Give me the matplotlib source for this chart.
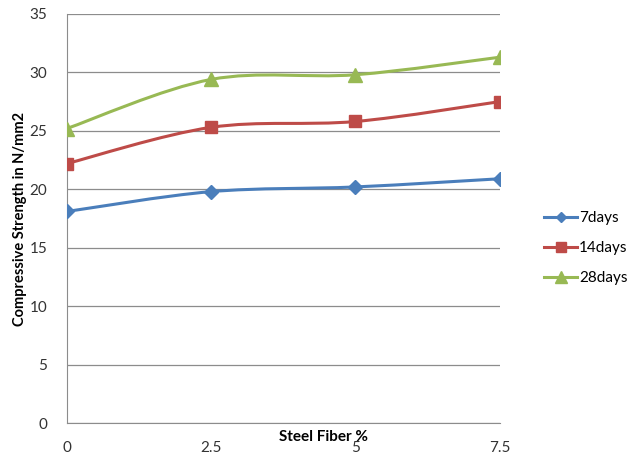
import numpy as np
import matplotlib.pyplot as plt
from matplotlib.path import Path
from matplotlib.patches import PathPatch

# Données
fiber = [0, 2.5, 5, 7.5]
fiber_labels = ["0", "2.5", "5", "7.5"]
days7 = [18.1, 19.8, 20.2, 20.9]
days14 = [22.2, 25.3, 25.8, 27.5]
days28 = [25.2, 29.4, 29.8, 31.3]

plt.rcParams['font.family'] = ['Lato', 'DejaVu Sans']

fig = plt.figure(figsize=(6.31, 4.55), dpi=100)
ax = fig.add_axes([0.106, 0.0703, 0.686, 0.899])


def smooth_path(x, y, t=1/6):
    # courbe lissée type Excel (Bézier Catmull-Rom)
    x = np.asarray(x, float)
    y = np.asarray(y, float)
    n = len(x)
    verts = [(x[0], y[0])]
    codes = [Path.MOVETO]
    for i in range(n - 1):
        i0 = max(i - 1, 0)
        i3 = min(i + 2, n - 1)
        c1 = (x[i] + (x[i + 1] - x[i0]) * t, y[i] + (y[i + 1] - y[i0]) * t)
        c2 = (x[i + 1] - (x[i3] - x[i]) * t, y[i + 1] - (y[i3] - y[i]) * t)
        verts += [c1, c2, (x[i + 1], y[i + 1])]
        codes += [Path.CURVE4] * 3
    return Path(verts, codes)


series = [
    (days7, "7days", "#4A7EBB", "D", 7),
    (days14, "14days", "#BE4B48", "s", 9),
    (days28, "28days", "#98B954", "^", 10),
]

for vals, name, col, mk, ms in series:
    ax.add_patch(PathPatch(smooth_path(fiber, vals), fill=False, edgecolor=col,
                           lw=2.2, zorder=3, capstyle='round'))
    ax.plot(fiber, vals, ls='none', marker=mk, ms=ms, color=col, zorder=4)
    ax.plot([], [], color=col, lw=2.2, marker=mk, ms=ms * 0.8, label=name)

ax.set_xlim(0, 7.5)
ax.set_ylim(0, 35)
ax.set_yticks(np.arange(0, 36, 5))
ax.set_xticks(fiber)
ax.set_xticklabels(fiber_labels)
ax.grid(axis='y', color='#8c8c8c', lw=0.9)
ax.set_axisbelow(True)
for s in ['top', 'right']:
    ax.spines[s].set_visible(False)
for s in ['left', 'bottom']:
    ax.spines[s].set_color('#8c8c8c')
ax.tick_params(axis='both', length=0, labelsize=11, labelcolor='#333333')
ax.tick_params(axis='y', pad=14)
ax.tick_params(axis='x', pad=13)

fig.text(324 / 631, 1 - 437 / 455, "Steel Fiber %", fontsize=11, fontweight='bold',
         ha='center', va='center')
fig.text(20 / 631, 1 - 219 / 455, "Compressive Strength in N/mm2", fontsize=10.5,
         fontweight='bold', rotation=90, ha='center', va='center')

fig.legend(loc='center left', bbox_to_anchor=(0.84, 0.455), frameon=False,
           fontsize=11, handlelength=2.2, handletextpad=0.1, labelspacing=1.05)

fig.savefig("out.png", dpi=100)
